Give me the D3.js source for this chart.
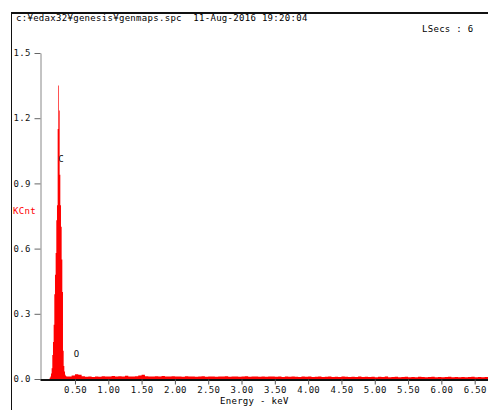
<!DOCTYPE html>
<html>
<head>
<meta charset="utf-8">
<script src="https://cdn.jsdelivr.net/npm/d3@7"></script>
<style>
  body { margin: 0; background: #fff; }
  svg { display: block; }
  text { font-family: "DejaVu Sans Mono", "Liberation Mono", monospace; font-size: 9px; letter-spacing: 0.3px; white-space: pre; }
</style>
</head>
<body>
<div id="chart"></div>
<script>
// peak region, 0.01 keV channels (KCnt)
var peakStart = 0.12, peakStep = 0.01;
var peakCounts = [0.006, 0.012, 0.025, 0.05, 0.11, 0.17, 0.25, 0.39, 0.48, 0.58,
                  0.73, 0.80, 1.15, 1.35, 1.235, 0.94, 0.80, 0.70, 0.55, 0.40,
                  0.13, 0.06, 0.035, 0.02, 0.014, 0.012, 0.011, 0.012];
// background, 0.05 keV channels from 0.40 keV (KCnt)
var bgStart = 0.40, bgStep = 0.05;
var bgCounts = [0.012, 0.016, 0.022, 0.020, 0.013, 0.010, 0.011, 0.009, 0.012, 0.010,
                0.013, 0.011, 0.012, 0.014, 0.011, 0.013, 0.012, 0.015, 0.012, 0.011,
                0.013, 0.016, 0.019, 0.013, 0.012, 0.011, 0.013, 0.012, 0.014, 0.011,
                0.012, 0.013, 0.011, 0.012, 0.010, 0.013, 0.011, 0.012, 0.010, 0.011,
                0.013, 0.010, 0.012, 0.011, 0.010, 0.012, 0.011, 0.013, 0.010, 0.011,
                0.012, 0.010, 0.011, 0.013, 0.010, 0.011, 0.012, 0.010, 0.011, 0.010,
                0.012, 0.011, 0.010, 0.012, 0.009, 0.011, 0.010, 0.012, 0.010, 0.009,
                0.011, 0.010, 0.012, 0.009, 0.010, 0.011, 0.009, 0.010, 0.011, 0.009,
                0.010, 0.009, 0.011, 0.010, 0.009, 0.010, 0.009, 0.011, 0.009, 0.010,
                0.009, 0.010, 0.008, 0.010, 0.009, 0.011, 0.008, 0.009, 0.010, 0.008,
                0.009, 0.010, 0.008, 0.009, 0.008, 0.010, 0.009, 0.008, 0.009, 0.010,
                0.008, 0.009, 0.008, 0.009, 0.010, 0.008, 0.009, 0.008, 0.009, 0.008,
                0.009, 0.010, 0.008, 0.009, 0.008, 0.009, 0.008];
var xTicks = [0.5, 1.0, 1.5, 2.0, 2.5, 3.0, 3.5, 4.0, 4.5, 5.0, 5.5, 6.0, 6.5];
var yTicks = [0.0, 0.3, 0.6, 0.9, 1.2, 1.5];
var peakLabels = [{name: "C", e: 0.25, v: 1.0}, {name: "O", e: 0.48, v: 0.10}];
var headerText = "c:\u00a5edax32\u00a5genesis\u00a5genmaps.spc  11-Aug-2016 19:20:04";
var liveText = "LSecs : 6";

var width = 488, height = 410;
var svg = d3.select("#chart").append("svg")
    .attr("width", width)
    .attr("height", height);

var x = d3.scaleLinear().domain([-0.025, 6.7]).range([40, 488]);
var y = d3.scaleLinear().domain([0, 1.5]).range([379, 53]);

// build channel list
var channels = [];
peakCounts.forEach(function(v, i) { channels.push({e: peakStart + i * peakStep, v: v}); });
bgCounts.forEach(function(v, i) { channels.push({e: bgStart + i * bgStep, v: v}); });

// frame
svg.append("line").attr("x1", 11).attr("x2", 488).attr("y1", 13).attr("y2", 13)
    .attr("stroke", "#111").attr("stroke-width", 2);
svg.append("line").attr("x1", 11.5).attr("x2", 11.5).attr("y1", 13).attr("y2", 410)
    .attr("stroke", "#111").attr("stroke-width", 1);

svg.append("text").attr("x", 16).attr("y", 21).text(headerText);
svg.append("text").attr("x", 422).attr("y", 32).text(liveText);

// spectrum
var area = d3.area()
    .curve(d3.curveStepAfter)
    .x(function(d) { return x(d.e); })
    .y0(y(0))
    .y1(function(d) { return y(d.v); });
svg.append("path").datum(channels)
    .attr("d", area)
    .attr("fill", "#ff0000")
    .attr("stroke", "none");

// y axis
var yAxis = svg.append("g")
    .attr("transform", "translate(40.5,0)")
    .call(d3.axisLeft(y).tickValues(yTicks).tickSize(6).tickSizeOuter(0)
          .tickFormat(d3.format(".1f")));
yAxis.select(".domain").attr("stroke", "#888");
yAxis.selectAll(".tick line").attr("stroke", "#666");
yAxis.selectAll(".tick text")
    .attr("x", -27).attr("dy", "0.3em")
    .attr("text-anchor", "start")
    .attr("fill", "#111")
    .style("font-family", null).style("font-size", null);
yAxis.attr("font-family", null).attr("font-size", null);

// x axis
var xAxis = svg.append("g")
    .attr("transform", "translate(0,379.5)")
    .call(d3.axisBottom(x).tickValues(xTicks).tickSize(5).tickSizeOuter(0).tickPadding(4)
          .tickFormat(d3.format(".2f")));
xAxis.select(".domain").attr("stroke", "#111").attr("stroke-width", 2);
xAxis.selectAll(".tick line").attr("stroke", "#555");
xAxis.selectAll(".tick text").attr("fill", "#111").attr("dy", "0.55em");
xAxis.attr("font-family", null).attr("font-size", null);

svg.append("text").attr("x", 220).attr("y", 404).text("Energy - keV");
svg.append("text").attr("x", 13).attr("y", 214).attr("fill", "#ff0000").text("KCnt");

svg.selectAll(".plabel").data(peakLabels).enter().append("text")
    .attr("class", "plabel")
    .attr("x", function(d) { return x(d.e); })
    .attr("y", function(d) { return y(d.v); })
    .attr("fill", "#111")
    .text(function(d) { return d.name; });
</script>
</body>
</html>
